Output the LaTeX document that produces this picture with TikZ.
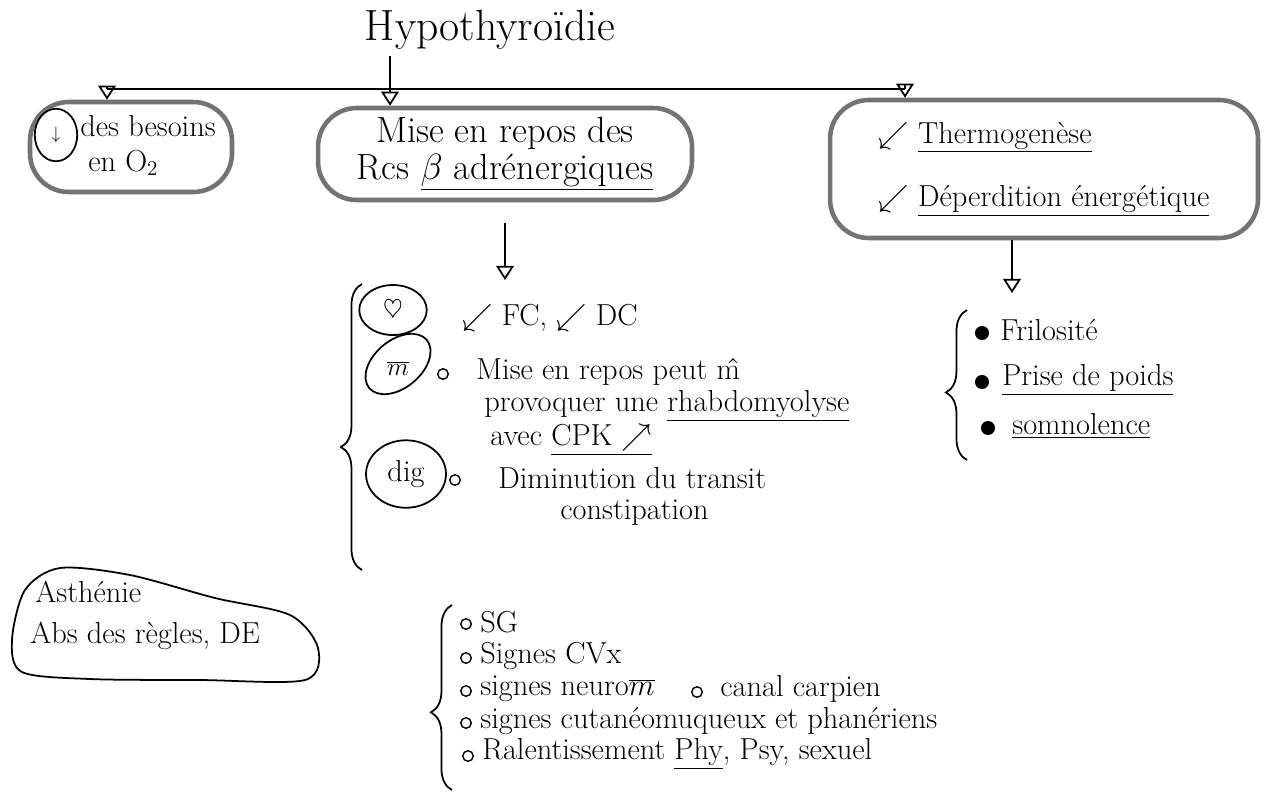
\documentclass[tikz,border=0pt]{standalone}
\usepackage{tikz}
\usetikzlibrary{arrows.meta,decorations.pathreplacing,shapes.geometric,positioning}

\tikzset{
  notebox/.style={draw=black!55, line width=2.6pt, rounded corners=22pt, inner sep=2pt},
  ringmark/.style={ellipse, draw, line width=1pt, inner sep=0pt},
  handbrace/.style={decorate, decoration={brace, amplitude=12pt, aspect=#1}, line width=1pt},
  openarrow/.style={-{Triangle[open, width=10pt, length=8pt]}, line width=1pt},
  opendot/.style={circle, draw, line width=0.8pt, inner sep=0pt, minimum size=6pt},
  fulldot/.style={circle, fill, inner sep=0pt, minimum size=8pt},
  txt/.style={anchor=west, font=\LARGE, inner sep=0pt},
}

\begin{document}
\begin{tikzpicture}[x=0.02cm, y=-0.02cm]
  \useasboundingbox (0,0) rectangle (1266,796);

  \node[font=\Huge] (title) at (490,30) {Hypothyroïdie};          % Title
  \coordinate (barL) at (107,89);
  \coordinate (barM) at (390,89);
  \coordinate (barR) at (905,89);
  \draw[line width=1pt] (barL) -- (barR);                         % Branch line

  % Left box
  \node[notebox, minimum width=4.04cm, minimum height=1.8cm] (needs) at (131,147) {};
  \node[ringmark, minimum width=0.85cm, minimum height=1.05cm] (needsring) at (56,135) {$\downarrow$};
  \node[txt] (needsa) at (80,126) {des besoins};
  \node[txt] (needsb) at (88,163) {en O$_2$};

  % Middle box
  \node[notebox, minimum width=7.48cm, minimum height=1.84cm, font=\huge, align=center] (rest) at (505,154)
       {Mise en repos des\\[-4pt]Rcs \underline{$\beta$ adrénergiques}};

  % Right box
  \node[notebox, minimum width=8.56cm, minimum height=2.76cm, font=\LARGE, align=left] (heat) at (1044,169)
       {$\swarrow$ \underline{Thermogenèse}\\[14pt]$\swarrow$ \underline{Déperdition énergétique}};

  \draw[openarrow] (barL) -- (needs.north -| barL);                % Arrow to left box
  \draw[openarrow] (title.south -| barM) -- (rest.north -| barM);  % Arrow to middle box
  \draw[openarrow] (barR) -- (heat.north -| barR);                 % Arrow to right box

  \coordinate (restout) at (505,280);
  \coordinate (heatout) at (1012,293);
  \draw[openarrow, shorten <=12pt] (rest.south -| restout) -- (restout);  % Arrow down middle
  \draw[openarrow] (heat.south -| heatout) -- (heatout);                  % Arrow down right

  % Middle list
  \draw[handbrace=0.43] (362,570) -- (362,284);
  \node[ringmark, minimum width=1.35cm, minimum height=1.0cm] (cardio) at (393,310) {\Large$\heartsuit$};
  \node[ringmark, rotate=40, minimum width=1.5cm, minimum height=0.95cm] (muscle) at (398,364) {};
  \node[font=\Large] (musclem) at (398,368) {$\overline{m}$};
  \node[ringmark, minimum width=1.6cm, minimum height=1.35cm] (digest) at (406,474) {};
  \node[font=\LARGE] (digestt) at (406,474) {dig};
  \node[txt] (fcdc) at (462,318) {$\swarrow$ FC, $\swarrow$ DC};
  \node[opendot] (musdot) at (443,374) {};
  \node[txt] (rhabdoa) at (476,372) {Mise en repos peut \^{m}};
  \node[txt] (rhabdob) at (484,406) {provoquer une \underline{rhabdomyolyse}};
  \node[txt] (rhabdoc) at (490,440) {avec \underline{CPK $\nearrow$}};
  \node[opendot] (digdot) at (455,480) {};
  \node[txt] (transit) at (498,478) {Diminution du transit};
  \node[txt] (constip) at (560,513) {constipation};

  % Right list
  \draw[handbrace=0.45] (967,460) -- (967,310);
  \node[fulldot] (dota) at (982,333) {};
  \node[fulldot] (dotb) at (982,382) {};
  \node[fulldot] (dotc) at (988,428) {};
  \node[txt] (frilo) at (1000,330) {Frilosité};
  \node[txt] (poids) at (1002,380) {\underline{Prise de poids}};
  \node[txt] (somno) at (1012,426) {\underline{somnolence}};

  % Bottom left note
  \draw[line width=1pt] plot[smooth cycle] coordinates
       {(12,640) (25,590) (60,568) (130,575) (215,598) (290,615) (318,648) (305,680) (200,680) (90,679) (22,672)};
  \node[txt] (asthenie) at (35,592) {Asthénie};
  \node[txt] (regles) at (30,636) {Abs des règles, DE};

  % Bottom list
  \draw[handbrace=0.42] (452,790) -- (452,605);
  \node[opendot] (sgdot) at (466,624) {};
  \node[opendot] (cvdot) at (466,658) {};
  \node[opendot] (nrdot) at (466,691) {};
  \node[opendot] (ccdot) at (697,692) {};
  \node[opendot] (ctdot) at (466,723) {};
  \node[opendot] (rldot) at (468,756) {};
  \node[txt] (sg) at (480,622) {SG};
  \node[txt] (cvx) at (480,656) {Signes CVx};
  \node[txt] (neuro) at (480,689) {signes neuro$\overline{m}$};
  \node[txt] (carpien) at (720,689) {canal carpien};
  \node[txt] (cutane) at (480,721) {signes cutanéomuqueux et phanériens};
  \node[txt] (ralent) at (482,754) {Ralentissement \underline{Phy}, Psy, sexuel};
\end{tikzpicture}
\end{document}
